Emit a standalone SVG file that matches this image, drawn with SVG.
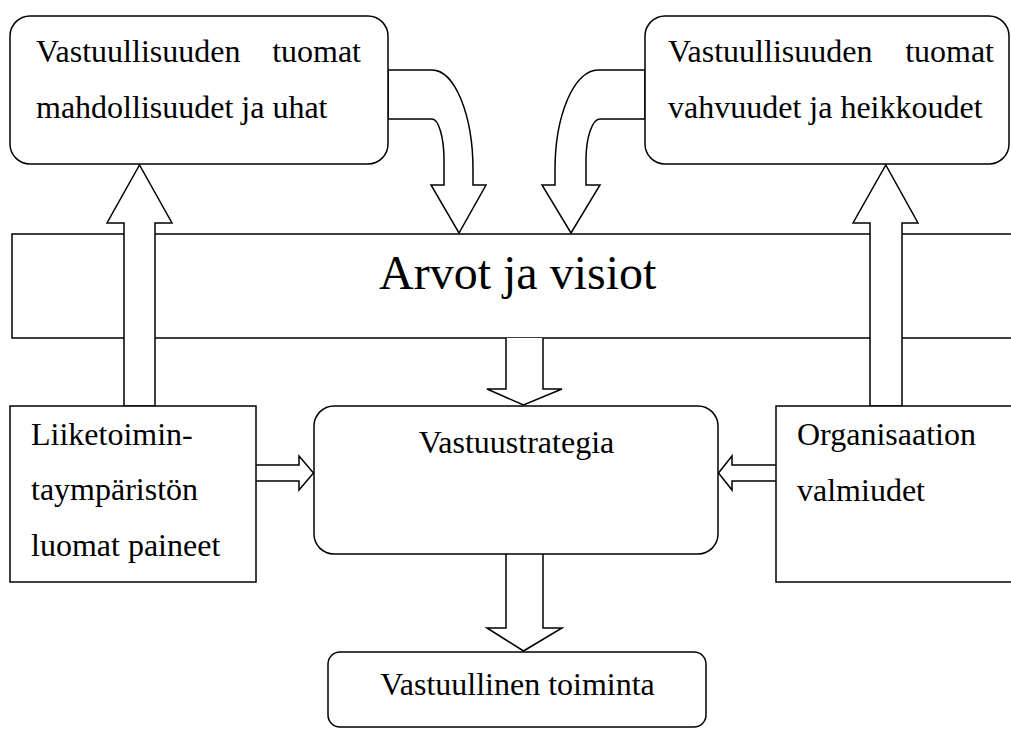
<svg xmlns="http://www.w3.org/2000/svg" width="1011" height="729" viewBox="0 0 1011 729">
<style>
.s{fill:#fff;stroke:#000;stroke-width:1.5;stroke-linejoin:miter}
text{font-family:'Liberation Serif','Times New Roman','DejaVu Serif',serif;font-size:32px;fill:#000}
.big{font-size:48px}
</style>
<rect width="1011" height="729" fill="#fff"/>
<g id="band">
<rect class="s" x="12" y="234" width="1030" height="104"/>
<text class="big" x="379" y="289">Arvot ja visiot</text>
</g>
<g id="connectors">
<path class="s" d="M124,406 V223 H107 L139.5,165 L172,223 H155 V406 Z"/>
<path class="s" d="M870,406 V223 H853 L885.8,165 L918,223 H902 V406 Z"/>
<path class="s" d="M388,70 H432 A41,100 0 0 1 473,170 V185 H486 L459,233 L431,185 H444 V160 A12,41 0 0 0 432,119 H388 Z"/>
<path class="s" d="M645,70 H598 A43,100 0 0 0 555,170 V185 H542 L571,233 L600,185 H586 V160 A14,41 0 0 1 600,119 H645 Z"/>
<path class="s" d="M506,338 V389 H487 L523.5,405 L562,389 H543 V338"/>
<path class="s" d="M506,554 V628 H487 L523.5,651 L562,628 H543 V554"/>
<path class="s" d="M256,465 H299 V456 L313.5,473 L299,490 V481 H256"/>
<path class="s" d="M776,465 H732 V456 L718.5,473 L732,490 V481 H776"/>
</g>
<g id="mahdollisuudet">
<rect class="s" x="10" y="16" width="378" height="148" rx="20"/>
<text x="36" y="62">Vastuullisuuden</text>
<text x="361" y="62" text-anchor="end">tuomat</text>
<text x="36" y="118">mahdollisuudet ja uhat</text>
</g>
<g id="vahvuudet">
<rect class="s" x="645" y="16" width="364" height="148" rx="20"/>
<text x="668" y="62">Vastuullisuuden</text>
<text x="994" y="62" text-anchor="end">tuomat</text>
<text x="668" y="118">vahvuudet ja heikkoudet</text>
</g>
<g id="liiketoimintaymparisto">
<rect class="s" x="10" y="406" width="246" height="176"/>
<text x="31" y="445">Liiketoimin-</text>
<text x="31" y="500">taympäristön</text>
<text x="31" y="556">luomat paineet</text>
</g>
<g id="vastuustrategia">
<rect class="s" x="314" y="406" width="404" height="148" rx="20"/>
<text x="516.5" y="453" text-anchor="middle">Vastuustrategia</text>
</g>
<g id="organisaatio">
<rect class="s" x="776" y="406" width="260" height="176"/>
<text x="797" y="445">Organisaation</text>
<text x="797" y="501">valmiudet</text>
</g>
<g id="toiminta">
<rect class="s" x="328" y="652" width="378" height="75" rx="12"/>
<text x="517.5" y="695" text-anchor="middle">Vastuullinen toiminta</text>
</g>
</svg>
